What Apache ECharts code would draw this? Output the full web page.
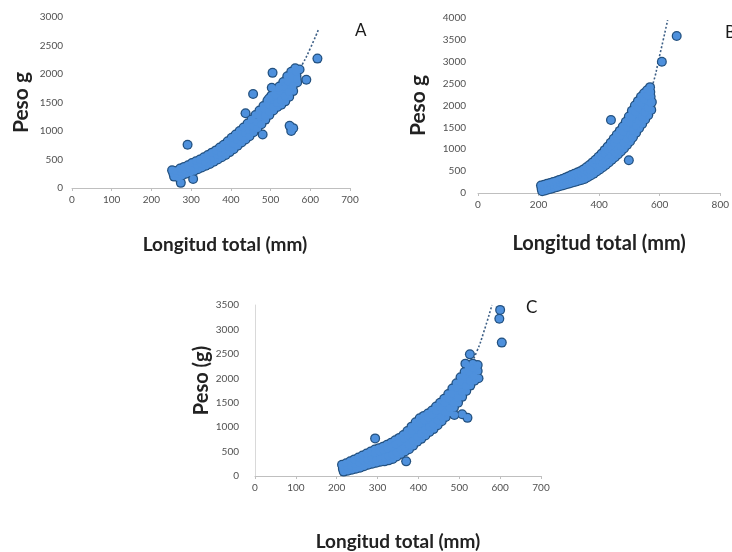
<!DOCTYPE html>
<html>
<head>
<meta charset="utf-8">
<script src="https://cdn.jsdelivr.net/npm/echarts@6/dist/echarts.min.js"></script>
<style>
  html, body { margin: 0; padding: 0; background: #fff; }
  #chart { width: 732px; height: 552px; }
</style>
</head>
<body>
<div id="chart"></div>
<script>
// Length (mm) vs weight (g) for three samples, A, B and C.

const xTicksA = [0, 100, 200, 300, 400, 500, 600, 700];
const yTicksA = [0, 500, 1000, 1500, 2000, 2500, 3000];
const xTicksB = [0, 200, 400, 600, 800];
const yTicksB = [0, 500, 1000, 1500, 2000, 2500, 3000, 3500, 4000];
const xTicksC = [0, 100, 200, 300, 400, 500, 600, 700];
const yTicksC = [0, 500, 1000, 1500, 2000, 2500, 3000, 3500];

// Sample A: [length, weight]
const pointsA = [
  [257,200],[255,260],[252,310],[267,190],[265,250],[262,300],[277,220],[275,280],[272,340],
  [287,250],[285,310],[282,370],[297,270],[295,340],[292,400],[307,300],[305,370],[302,440],
  [317,330],[315,400],[312,470],[327,360],[325,430],[322,500],[337,390],[335,460],[332,540],
  [347,420],[345,500],[342,580],[357,460],[355,540],[352,620],[367,500],[365,580],[362,660],
  [377,540],[375,620],[372,710],[387,580],[385,670],[382,760],[397,630],[395,720],[392,820],
  [407,680],[405,780],[402,880],[417,740],[415,840],[412,940],[427,800],[425,900],[422,1000],
  [437,850],[435,960],[432,1060],[447,910],[445,1020],[442,1130],[457,980],[455,1090],[452,1200],
  [467,1050],[465,1160],[462,1280],[477,1120],[475,1240],[472,1360],[487,1200],[485,1320],[482,1440],
  [497,1280],[495,1400],[492,1530],[507,1360],[505,1480],[502,1620],[517,1420],[515,1560],[512,1700],
  [527,1460],[525,1620],[522,1780],[537,1520],[535,1700],[532,1860],[547,1600],[545,1780],[542,1960],
  [557,1700],[555,1880],[552,2040],[567,1850],[565,1980],[562,2100],[573,2080],
  [486,1260],[484,1380],[496,1340],[494,1465],[506,1420],[504,1550],[516,1490],[514,1630],
  [526,1540],[524,1700],[536,1610],[534,1780],[546,1690],[544,1870],[556,1790],[554,1960],
  [566,1915],[564,2040],
  [291,760],[305,160],[274,90],[437,1310],[456,1650],[480,940],[496,1570],[503,1760],[505,2020],[521,1760],
  [548,1090],[552,1000],[557,1050],[590,1900],[618,2270]
];
const trendA = [[250,210],[300,340],[350,510],[400,740],[450,1030],[500,1390],[550,1830],[580,2170],[600,2450],[620,2770]];

// Sample B
const pointsB = [
  [212,40],[210,100],[208,170],[222,60],[220,120],[218,190],[232,80],[230,140],[228,210],
  [242,100],[240,160],[238,230],[252,120],[250,180],[248,250],[262,140],[260,200],[258,270],
  [272,160],[270,230],[268,300],[282,180],[280,250],[278,320],[292,200],[290,280],[288,350],
  [302,220],[300,300],[298,380],[312,240],[310,330],[308,410],[322,260],[320,360],[318,440],
  [332,280],[330,390],[328,470],[342,300],[340,420],[338,500],[352,320],[350,450],[348,540],
  [362,360],[360,490],[358,590],[372,400],[370,530],[368,640],[382,440],[380,580],[378,700],
  [392,490],[390,630],[388,760],[402,540],[400,690],[398,830],[412,590],[410,750],[408,900],
  [422,640],[420,810],[418,980],[432,700],[430,880],[428,1060],[442,760],[440,950],[438,1150],
  [452,820],[450,1030],[448,1240],[462,880],[460,1110],[458,1330],[472,950],[470,1190],[468,1420],
  [482,1020],[480,1280],[478,1520],[492,1100],[490,1370],[488,1630],[502,1180],[500,1470],[498,1750],
  [512,1280],[510,1580],[508,1880],[522,1380],[520,1690],[518,2000],[532,1480],[530,1800],[528,2100],
  [542,1580],[540,1900],[538,2200],[552,1680],[550,2000],[548,2280],[562,1780],[560,2100],[558,2350],
  [572,1900],[570,2200],[568,2420],[574,2080],
  [401,615],[399,760],[411,670],[409,825],[421,725],[419,895],[431,790],[429,970],[441,855],[439,1050],
  [451,925],[449,1135],[461,995],[459,1220],[471,1070],[469,1305],[481,1150],[479,1400],[491,1235],[489,1500],
  [501,1325],[499,1610],[511,1430],[509,1730],[521,1535],[519,1845],[531,1640],[529,1950],[541,1740],[539,2050],
  [551,1840],[549,2140],[561,1940],[559,2225],[571,2050],[569,2310],
  [439,1670],[498,750],[508,1250],[607,3000],[656,3590]
];
const trendB = [[210,80],[300,320],[400,740],[450,1080],[500,1520],[550,2070],[574,2420],[600,3150],[626,3950]];

// Sample C
const pointsC = [
  [217,90],[215,150],[213,230],[227,110],[225,180],[223,260],[237,130],[235,210],[233,300],
  [247,150],[245,240],[243,340],[257,170],[255,270],[253,380],[267,200],[265,310],[263,420],
  [277,230],[275,340],[273,460],[287,250],[285,370],[283,500],[297,270],[295,400],[293,540],
  [307,290],[305,430],[303,570],[317,300],[315,460],[313,600],[327,320],[325,490],[323,640],
  [337,350],[335,520],[333,680],[347,400],[345,560],[343,730],[357,450],[355,610],[353,780],
  [367,500],[365,670],[363,840],[377,550],[375,740],[373,920],[387,620],[385,820],[383,1010],
  [397,700],[395,900],[393,1100],[407,760],[405,970],[403,1180],[417,830],[415,1040],[413,1230],
  [427,900],[425,1100],[423,1280],[437,960],[435,1160],[433,1340],[447,1040],[445,1230],[443,1420],
  [457,1120],[455,1310],[453,1500],[467,1210],[465,1400],[463,1580],[477,1300],[475,1480],[473,1680],
  [487,1400],[485,1580],[483,1790],[497,1500],[495,1700],[493,1900],[507,1620],[505,1820],[503,2020],
  [517,1740],[515,1930],[513,2130],[527,1850],[525,2030],[523,2220],[537,1950],[535,2120],[533,2300],
  [547,2000],[545,2150],[543,2250],
  [296,335],[294,470],[306,360],[304,500],[316,380],[314,530],[326,405],[324,565],[336,435],[334,600],
  [346,480],[344,645],[356,530],[354,695],[366,585],[364,755],[376,645],[374,830],[386,720],[384,915],
  [396,800],[394,1000],[406,865],[404,1075],[416,935],[414,1135],[426,1000],[424,1190],[436,1060],[434,1250],
  [446,1135],[444,1325],[456,1215],[454,1405],[466,1305],[464,1490],[476,1390],[474,1580],[486,1490],[484,1685],
  [496,1600],[494,1800],[506,1720],[504,1920],[516,1835],[514,2030],[526,1940],[524,2125],[536,2035],[534,2210],
  [294,770],[370,300],[488,1250],[507,1265],[520,1190],[515,2300],[526,2490],[545,2270],
  [598,3220],[600,3400],[604,2730]
];
const trendC = [[212,120],[300,380],[400,900],[450,1280],[500,1780],[543,2550],[560,2950],[580,3500]];

const labelFont = { fontFamily: 'Lato', fontSize: 10, color: '#505050' };
const plain = v => String(v);

function axisPair(idx, xTicks, yTicks, xName, yName, opt) {
  return {
    x: {
      type: 'value', gridIndex: idx, min: xTicks[0], max: xTicks[xTicks.length - 1],
      interval: xTicks[1] - xTicks[0],
      name: xName, nameLocation: 'middle', nameGap: opt.xGap,
      nameTextStyle: { fontFamily: 'Lato', fontSize: opt.xSize, color: '#222222', fontWeight: 'bold',
        padding: opt.xPad || 0 },
      axisLine: { show: true, lineStyle: { color: '#bfbfbf', width: 1 } },
      axisTick: { show: true, length: 3, lineStyle: { color: '#bfbfbf' } },
      axisLabel: Object.assign({ margin: 7, formatter: plain }, labelFont),
      splitLine: { show: false }
    },
    y: {
      type: 'value', gridIndex: idx, min: yTicks[0], max: yTicks[yTicks.length - 1],
      interval: yTicks[1] - yTicks[0],
      name: yName, nameLocation: 'middle', nameGap: opt.yGap, nameRotate: 90,
      nameTextStyle: { fontFamily: 'Lato', fontSize: opt.ySize, color: '#222222', fontWeight: 'bold',
        padding: opt.yPad || 0 },
      axisLine: { show: opt.yLine, lineStyle: { color: '#d9d9d9', width: 1 } },
      axisTick: { show: false },
      axisLabel: Object.assign({ margin: opt.yMargin, formatter: plain }, labelFont),
      splitLine: { show: false }
    }
  };
}

const axA = axisPair(0, xTicksA, yTicksA, 'Longitud total (mm)', 'Peso g',
  { xGap: 47, yGap: 40, yLine: false, yMargin: 9, xSize: 19, ySize: 21, xPad: [0, 0, 0, 28] });
const axB = axisPair(1, xTicksB, yTicksB, 'Longitud total (mm)', 'Peso g',
  { xGap: 41, yGap: 49, yLine: false, yMargin: 12, xSize: 20, ySize: 21 });
const axC = axisPair(2, xTicksC, yTicksC, 'Longitud total (mm)', 'Peso (g)',
  { xGap: 56, yGap: 34, yLine: true, yMargin: 16, xSize: 19, ySize: 20, xPad: [0, 0, 0, 0], yPad: [0, 0, 0, 20] });

function seriesFor(idx, pts, trend) {
  return [
    {
      type: 'line', xAxisIndex: idx, yAxisIndex: idx, data: trend, smooth: true,
      symbol: 'none', silent: true, z: 1,
      lineStyle: { color: '#3d5f86', width: 1.6, type: [2, 2] }
    },
    {
      type: 'scatter', xAxisIndex: idx, yAxisIndex: idx, data: pts, symbolSize: 10, z: 2,
      itemStyle: { color: '#22507f', opacity: 1 }
    },
    {
      type: 'scatter', xAxisIndex: idx, yAxisIndex: idx, data: pts, symbolSize: 7.5, z: 3,
      itemStyle: { color: '#4e90dc', opacity: 1 }
    }
  ];
}

const chart = echarts.init(document.getElementById('chart'), null, { renderer: 'canvas' });
chart.setOption({
  animation: false,
  backgroundColor: '#ffffff',
  grid: [
    { left: 72, top: 17, width: 278, height: 171 },
    { left: 478, top: 18, width: 244, height: 175 },
    { left: 255, top: 305, width: 286, height: 177 }
  ],
  xAxis: [axA.x, axB.x, axC.x],
  yAxis: [axA.y, axB.y, axC.y],
  series: [].concat(seriesFor(0, pointsA, trendA), seriesFor(1, pointsB, trendB), seriesFor(2, pointsC, trendC)),
  graphic: [
    { type: 'text', left: 355, top: 22, style: { text: 'A', font: '17px Lato', fill: '#1a1a1a' } },
    { type: 'text', left: 725, top: 24, style: { text: 'B', font: '17px Lato', fill: '#1a1a1a' } },
    { type: 'text', left: 526, top: 299, style: { text: 'C', font: '17px Lato', fill: '#1a1a1a' } }
  ]
});
</script>
</body>
</html>
